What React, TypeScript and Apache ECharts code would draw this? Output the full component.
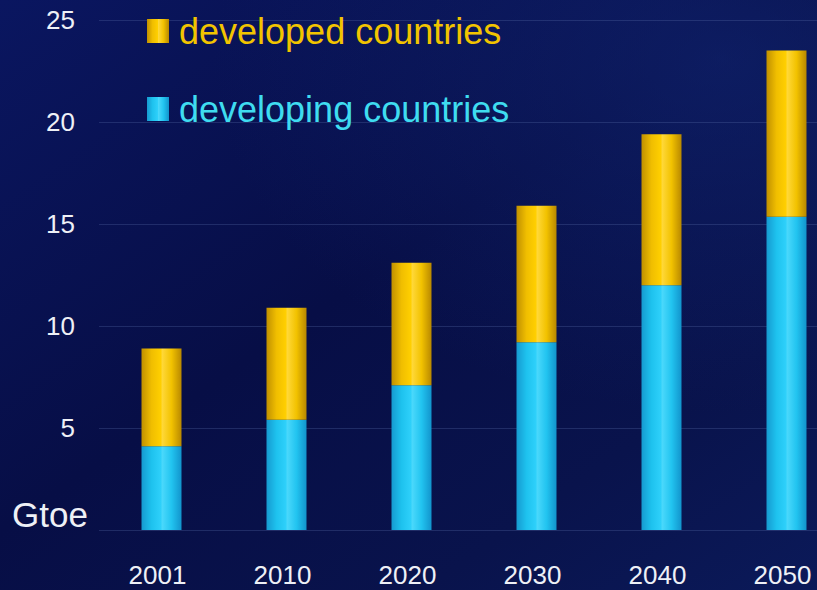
import React, { useEffect, useRef } from "react";
import * as echarts from "echarts";

const categories = ["2001", "2010", "2020", "2030", "2040", "2050"];
const developing = [4.1, 5.4, 7.1, 9.2, 12.0, 15.35];
const developed = [4.8, 5.5, 6.0, 6.7, 7.4, 8.15];
const yTicks = { min: 0, max: 25, interval: 5 };
const unitLabel = "Gtoe";

const CHART_W = 849;
const CHART_H = 590;

export default function App() {
  const ref = useRef<HTMLDivElement>(null);
  useEffect(() => {
    if (!ref.current) return;
    document.body.style.overflow = "hidden";
    const chart = echarts.init(ref.current, undefined, { renderer: "svg" });
    const font = "'Liberation Sans', Arial, sans-serif";
    const gold = new echarts.graphic.LinearGradient(0, 0, 1, 0, [
      { offset: 0, color: "#c09000" },
      { offset: 0.25, color: "#f0be00" },
      { offset: 0.48, color: "#ffcf00" },
      { offset: 0.52, color: "#ffd838" },
      { offset: 0.75, color: "#f2c200" },
      { offset: 1, color: "#b88800" },
    ]);
    const cyan = new echarts.graphic.LinearGradient(0, 0, 1, 0, [
      { offset: 0, color: "#169ad0" },
      { offset: 0.25, color: "#1ec2ee" },
      { offset: 0.48, color: "#2ed0fa" },
      { offset: 0.52, color: "#4ad8fb" },
      { offset: 0.75, color: "#22c4f0" },
      { offset: 1, color: "#1294cc" },
    ]);
    chart.setOption({
      animation: false,
      backgroundColor: new echarts.graphic.LinearGradient(0, 0, 1, 1, [
        { offset: 0, color: "#0a1660" },
        { offset: 0.45, color: "#070e46" },
        { offset: 0.75, color: "#09134c" },
        { offset: 1, color: "#0b1a5a" },
      ]),
      graphic: [
        {
          type: "rect",
          left: 0,
          top: 0,
          shape: { width: CHART_W, height: CHART_H },
          silent: true,
          z: -10,
          style: {
            fill: new echarts.graphic.RadialGradient(0.85, 0.1, 0.6, [
              { offset: 0, color: "rgba(20,45,130,0.45)" },
              { offset: 1, color: "rgba(20,45,130,0)" },
            ]),
          },
        },
        {
          type: "text",
          left: 12,
          top: 497,
          style: {
            text: unitLabel,
            fill: "#eef0f6",
            font: `35px ${font}`,
          },
        },
      ],
      legend: {
        orient: "vertical",
        left: 147,
        top: 13,
        padding: 0,
        itemWidth: 22,
        itemHeight: 24,
        itemGap: 42,
        icon: "rect",
        textStyle: {
          fontSize: 36,
          lineHeight: 24,
          fontFamily: font,
          padding: [0, 0, 0, 5],
        },
        data: [
          { name: "developed countries", textStyle: { color: "#f2c400" } },
          { name: "developing countries", textStyle: { color: "#3fdcf0" } },
        ],
      },
      grid: { left: 99, right: 0, top: 20, bottom: 60, containLabel: false },
      xAxis: {
        type: "category",
        data: categories,
        axisLine: { show: false },
        axisTick: { show: false },
        axisLabel: {
          color: "#eef0f6",
          fontSize: 26,
          fontFamily: font,
          margin: 32,
          verticalAlign: "top",
          padding: [0, 8, 0, 0],
        },
      },
      yAxis: {
        type: "value",
        min: yTicks.min,
        max: yTicks.max,
        interval: yTicks.interval,
        axisLine: { show: false },
        axisTick: { show: false },
        axisLabel: {
          color: "#eef0f6",
          fontSize: 26,
          fontFamily: font,
          margin: 24,
          padding: [6, 0, 0, 0],
          formatter: (v: number) => (v === 0 ? "" : String(v)),
        },
        splitLine: { lineStyle: { color: "rgba(90,110,170,0.3)", width: 1 } },
      },
      series: [
        {
          name: "developing countries",
          type: "bar",
          stack: "total",
          barWidth: 40,
          data: developing,
          itemStyle: { color: cyan },
        },
        {
          name: "developed countries",
          type: "bar",
          stack: "total",
          barWidth: 40,
          data: developed,
          itemStyle: { color: gold },
        },
      ],
    });
    return () => chart.dispose();
  }, []);
  return (
    <div
      ref={ref}
      style={{ position: "fixed", left: 0, top: 0, width: CHART_W, height: CHART_H }}
    />
  );
}
